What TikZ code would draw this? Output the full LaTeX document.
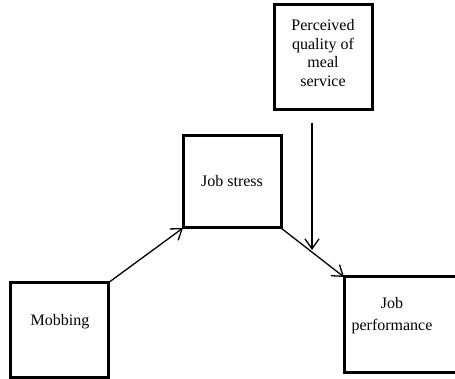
\documentclass[tikz,border=0pt]{standalone}
\usepackage{fontspec}
\setmainfont{Liberation Serif}
\usetikzlibrary{arrows.meta}
\begin{document}
\begin{tikzpicture}[x=1pt,y=-1pt,
  box/.style={draw, line width=3pt, outer sep=0pt, inner sep=0pt, rectangle},
  txt/.style={align=center, inner sep=0pt, font=\fontsize{16}{18.5}\selectfont},
  conn/.style={line width=1.3pt, -{Straight Barb[length=10pt,width=14pt,line width=1.3pt]}}]
\useasboundingbox (0,0) rectangle (455,379);
% boxes
\node[box, minimum width=98pt, minimum height=105pt] (perc) at (323,57.5) {};
\node[box, minimum width=98pt, minimum height=92pt] (stress) at (232,182) {};
\node[box, minimum width=98pt, minimum height=94pt] (mob) at (59,330) {};
\node[box, minimum width=126pt, minimum height=95pt] (perf) at (407,324.5) {};
% texts
\node[txt] (perct) at (323,53) {Perceived\\quality of\\meal\\service};
\node[txt] (stresst) at (232,181) {Job stress};
\node[txt] (mobt) at (60,322) {Mobbing};
\node[txt, font=\fontsize{16}{22}\selectfont] (perft) at (392,316) {Job\\performance};
% connectors
\draw[conn] (mob.north east) -- (stress.south west);
\draw[conn] (stress.south east) -- (perf.north west);
\coordinate (vstart) at (312,123);
\coordinate (vend) at (312,250);
\draw[conn] (vstart) -- (vend);
\end{tikzpicture}
\end{document}
